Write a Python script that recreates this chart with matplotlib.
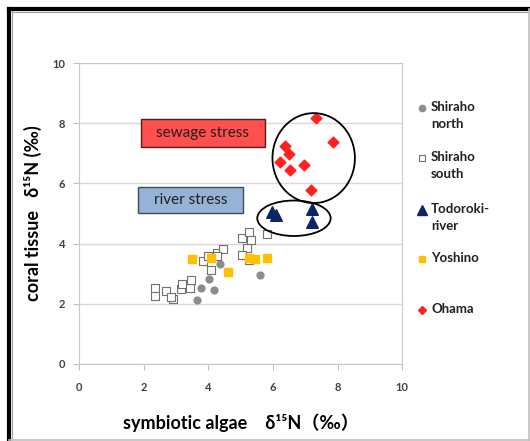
import numpy as np
import matplotlib.pyplot as plt
from matplotlib.patches import Ellipse, Rectangle
from matplotlib.lines import Line2D

plt.rcParams['font.family'] = ['Lato', 'Noto Sans CJK JP', 'DejaVu Sans']

# data
north_x = [4.35, 4.01, 3.76, 4.18, 3.65, 5.60]
north_y = [3.33, 2.82, 2.51, 2.44, 2.12, 2.95]

south_x = [2.35, 2.35, 2.69, 2.91, 2.86, 3.17, 3.20, 3.43, 3.48, 3.84, 4.00,
           4.07, 4.26, 4.44, 5.03, 5.25, 5.31, 5.19, 5.04, 5.25, 5.83, 4.26]
south_y = [2.52, 2.27, 2.41, 2.16, 2.22, 2.49, 2.64, 2.52, 2.78, 3.41, 3.60,
           3.13, 3.69, 3.82, 4.19, 4.37, 4.11, 3.85, 3.63, 3.44, 4.30, 3.58]

todo_x = [5.97, 6.10, 7.20, 7.20]
todo_y = [5.04, 4.96, 5.15, 4.71]

yosh_x = [3.51, 4.07, 4.60, 5.25, 5.45, 5.81]
yosh_y = [3.49, 3.53, 3.06, 3.52, 3.48, 3.53]

ohama_x = [7.33, 7.87, 6.38, 6.51, 6.21, 6.95, 6.53, 7.17]
ohama_y = [8.17, 7.38, 7.25, 6.98, 6.72, 6.62, 6.43, 5.77]

legend_labels = ["Shiraho\nnorth", "Shiraho\nsouth", "Todoroki-\nriver", "Yoshino", "Ohama"]

fig = plt.figure(figsize=(5.30, 4.41), dpi=100)
ax = fig.add_axes([0.149, 0.175, 0.610, 0.682])

ax.set_xlim(0, 10)
ax.set_ylim(0, 10)
ax.set_xticks(np.arange(0, 11, 2))
ax.set_yticks(np.arange(0, 11, 2))
ax.yaxis.grid(True, color='#d9d9d9', lw=1)
ax.set_axisbelow(True)
for s in ax.spines.values():
    s.set_color('#c8c8c8')
ax.tick_params(colors='#c0c0c0', length=4, labelcolor='#404040', labelsize=8)
for lab in ax.get_xticklabels() + ax.get_yticklabels():
    lab.set_fontweight('bold')
ax.tick_params(axis='x', pad=9)
ax.tick_params(axis='y', pad=6)

# series
ax.scatter(north_x, north_y, s=24, marker='o', color='#8c8c8c', zorder=3)
ax.scatter(south_x, south_y, s=30, marker='s', facecolor='white', edgecolor='#707070', lw=0.8, zorder=3)
ax.scatter(yosh_x, yosh_y, s=34, marker='s', color='#ffc000', zorder=4)
ax.scatter(todo_x, todo_y, s=70, marker='^', color='#0f2466', zorder=4)
ax.scatter(ohama_x, ohama_y, s=30, marker='D', color='#ff2020', zorder=4)

# annotations
ax.add_patch(Ellipse((7.26, 6.84), 2.55, 2.99, fill=False, ec='black', lw=1.3, zorder=5))
ax.add_patch(Ellipse((6.65, 4.84), 2.27, 1.18, fill=False, ec='black', lw=1.3, zorder=5))
ax.add_patch(Rectangle((1.92, 7.20), 3.83, 0.94, fc='#ff4f4f', ec='#502020', lw=1, zorder=5))
ax.text(3.83, 7.67, "sewage stress", ha='center', va='center', fontsize=11, color='#202020', zorder=6)
ax.add_patch(Rectangle((1.82, 5.02), 3.25, 0.85, fc='#95b3d7', ec='#404850', lw=1, zorder=5))
ax.text(3.45, 5.44, "river stress", ha='center', va='center', fontsize=11, color='#202020', zorder=6)

ax.set_xlabel("symbiotic algae　δ¹⁵N（‰）", fontsize=13, fontweight='bold', labelpad=15)
ax.set_ylabel("coral tissue   δ¹⁵N (‰)", fontsize=13, fontweight='bold', labelpad=7)

# legend drawn by hand (entries evenly spaced like the original)
leg_y = [333, 283, 231, 182, 131]
styles = [dict(marker='o', color='#8c8c8c', ms=4.5),
          dict(marker='s', mfc='white', mec='#707070', ms=5, mew=0.8),
          dict(marker='^', color='#0f2466', ms=7),
          dict(marker='s', color='#ffc000', ms=5),
          dict(marker='D', color='#ff2020', ms=4.5)]
for lab, yy, st in zip(legend_labels, leg_y, styles):
    fig.add_artist(Line2D([422 / 530], [yy / 441], ls='none', transform=fig.transFigure, **st))
    fig.text(431 / 530, (yy + 7) / 441, lab, ha='left', va='top', fontsize=9.5,
             fontweight='bold', color='#202020', linespacing=1.5)

# outer frame
fig.add_artist(Line2D([9 / 530, 9 / 530], [0, 432 / 441], color='black', lw=3, transform=fig.transFigure))
fig.add_artist(Line2D([9 / 530, 1], [432 / 441, 432 / 441], color='black', lw=3, transform=fig.transFigure))
fig.add_artist(Line2D([11.5 / 530, 11.5 / 530], [0, 430 / 441], color='#a0a0a0', lw=0.8, transform=fig.transFigure))
fig.add_artist(Line2D([11.5 / 530, 1], [429.5 / 441, 429.5 / 441], color='#a0a0a0', lw=0.8, transform=fig.transFigure))
fig.add_artist(Line2D([528.5 / 530, 528.5 / 530], [0, 432 / 441], color='#c0c0c0', lw=1.2, transform=fig.transFigure))
fig.add_artist(Line2D([9 / 530, 1], [0.8 / 441, 0.8 / 441], color='#c0c0c0', lw=1.2, transform=fig.transFigure))

fig.savefig("out.png", dpi=100)
